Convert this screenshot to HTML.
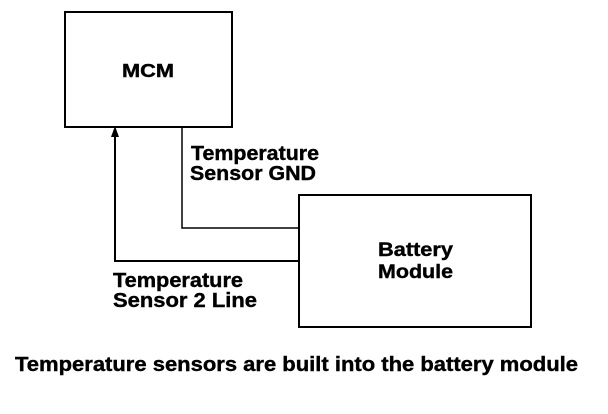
<!DOCTYPE html>
<html><head><style>body{margin:0;background:#fff}svg{display:block}</style></head>
<body>
<svg width="608" height="414" xmlns="http://www.w3.org/2000/svg" font-family="Liberation Sans, Arial, sans-serif" font-weight="bold" fill="#000">
<rect width="608" height="414" fill="#fff"/>
<g fill="none" stroke="#000" stroke-width="2">
<rect x="65" y="12" width="167" height="115"/>
<rect x="299" y="195" width="232" height="132"/>
<polyline points="182,128 182,228 299,228" stroke-width="1.5"/>
<polyline points="115,136 115,261 299,261"/>
</g>
<polygon points="115,126 111,137 119,137" fill="#000"/>
<g stroke="#000" stroke-width="0.4">
<text x="122" y="77" font-size="18" textLength="52" lengthAdjust="spacingAndGlyphs">MCM</text>
<text x="191" y="160" font-size="20" textLength="128" lengthAdjust="spacingAndGlyphs">Temperature</text>
<text x="190" y="180" font-size="20" textLength="126" lengthAdjust="spacingAndGlyphs">Sensor GND</text>
<text x="378" y="256" font-size="19" textLength="75" lengthAdjust="spacingAndGlyphs">Battery</text>
<text x="378" y="278" font-size="19" textLength="75" lengthAdjust="spacingAndGlyphs">Module</text>
<text x="113" y="287" font-size="20" textLength="130" lengthAdjust="spacingAndGlyphs">Temperature</text>
<text x="113" y="307" font-size="20" textLength="144" lengthAdjust="spacingAndGlyphs">Sensor 2 Line</text>
<text x="15" y="371" font-size="20" textLength="563" lengthAdjust="spacingAndGlyphs">Temperature sensors are built into the battery module</text>
</g>
</svg>
</body></html>
